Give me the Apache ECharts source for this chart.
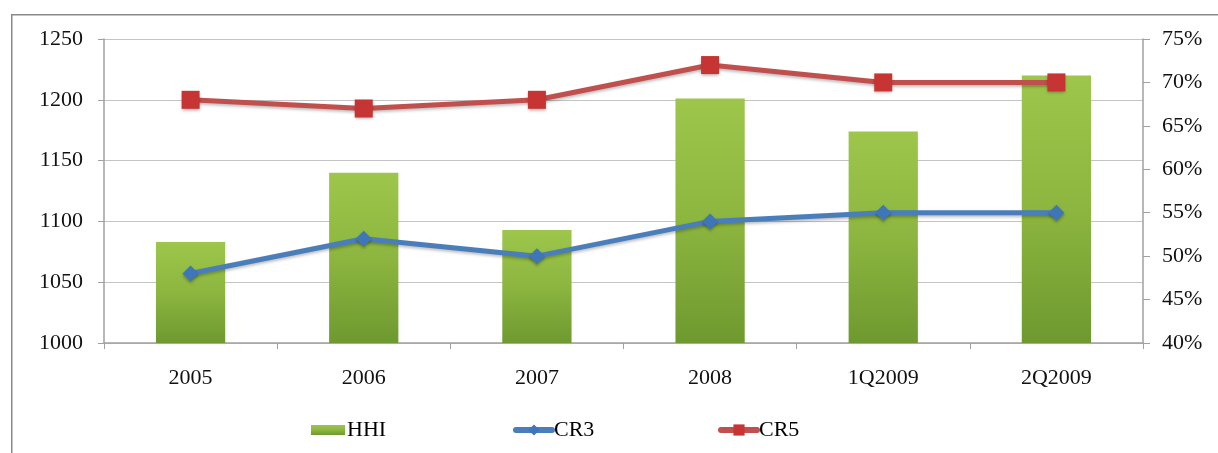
<!DOCTYPE html>
<html>
<head>
<meta charset="utf-8">
<script src="https://cdn.jsdelivr.net/npm/echarts@6/dist/echarts.min.js"></script>
<style>
html,body{margin:0;padding:0;background:#fff;}
#c{width:1218px;height:453px;}
</style>
</head>
<body>
<div id="c"></div>
<script>
const categories = ['2005', '2006', '2007', '2008', '1Q2009', '2Q2009'];
const hhiValues = [1083, 1140, 1093, 1201, 1174, 1220];
const cr3Values = [48, 52, 50, 54, 55, 55];
const cr5Values = [68, 67, 68, 72, 70, 70];
const leftTicks = {min: 1000, max: 1250, interval: 50};
const rightTicks = {min: 40, max: 75, interval: 5};

const font = '"Liberation Serif", "DejaVu Serif", serif';
const chart = echarts.init(document.getElementById('c'), null, {renderer: 'canvas'});
const legendCommon = {
  bottom: 7, itemWidth: 36, itemHeight: 14, itemGap: 4,
  textStyle: {fontFamily: font, fontSize: 22, color: '#000', padding: [0,0,0,-3]},
  lineStyle: {width: 6, cap: 'round'}
};
chart.setOption({
  animation: false,
  backgroundColor: '#fff',
  graphic: [{
    type: 'rect', left: 11, top: 14, z: -1,
    shape: {width: 1240, height: 460},
    style: {fill: '#fff', stroke: '#8a8a8a', lineWidth: 1.5}
  }],
  grid: {left: 104, right: 75, top: 39, bottom: 110},
  legend: [
    Object.assign({}, legendCommon, {left: 306, data: [{name: 'HHI', icon: 'rect'}], itemWidth: 34, itemHeight: 10}),
    Object.assign({}, legendCommon, {left: 508, data: ['CR3']}),
    Object.assign({}, legendCommon, {left: 713, data: ['CR5']})
  ],
  xAxis: {
    type: 'category', data: categories, boundaryGap: true,
    axisLine: {lineStyle: {color: '#a0a0a0', width: 1.5}},
    axisTick: {show: true, length: 6, alignWithLabel: false, lineStyle: {color: '#a0a0a0'}},
    axisLabel: {fontFamily: font, fontSize: 22, color: '#111', margin: 24}
  },
  yAxis: [{
    type: 'value', min: leftTicks.min, max: leftTicks.max, interval: leftTicks.interval,
    axisLine: {show: true, lineStyle: {color: '#a0a0a0', width: 1.5}},
    axisTick: {show: true, length: 6, lineStyle: {color: '#a0a0a0'}},
    splitLine: {show: true, lineStyle: {color: '#c4c4c4', width: 1.2}},
    axisLabel: {fontFamily: font, fontSize: 22, color: '#111', margin: 21, formatter: v => String(v)}
  }, {
    type: 'value', min: rightTicks.min, max: rightTicks.max, interval: rightTicks.interval,
    position: 'right',
    axisLine: {show: true, lineStyle: {color: '#a0a0a0', width: 1.5}},
    axisTick: {show: true, length: 7, lineStyle: {color: '#a0a0a0'}},
    splitLine: {show: false},
    axisLabel: {fontFamily: font, fontSize: 22, color: '#111', margin: 19, formatter: '{value}%'}
  }],
  series: [{
    name: 'HHI', type: 'bar', data: hhiValues, yAxisIndex: 0, barWidth: '40%',
    itemStyle: {
      color: new echarts.graphic.LinearGradient(0, 0, 0, 1, [
        {offset: 0, color: '#9dc64b'}, {offset: 0.5, color: '#8cb63f'}, {offset: 1, color: '#6e992f'}
      ])
    }
  }, {
    name: 'CR3', type: 'line', data: cr3Values, yAxisIndex: 1,
    symbol: 'diamond', symbolSize: 16,
    lineStyle: {color: '#4a7ebb', width: 5, shadowColor: 'rgba(0,0,0,0.25)', shadowBlur: 3, shadowOffsetY: 2},
    itemStyle: {color: '#3f76b8', shadowColor: 'rgba(0,0,0,0.3)', shadowBlur: 3, shadowOffsetY: 2}
  }, {
    name: 'CR5', type: 'line', data: cr5Values, yAxisIndex: 1,
    symbol: 'rect', symbolSize: 18,
    lineStyle: {color: '#c0504d', width: 5, shadowColor: 'rgba(0,0,0,0.25)', shadowBlur: 3, shadowOffsetY: 2},
    itemStyle: {color: '#c73434', shadowColor: 'rgba(0,0,0,0.3)', shadowBlur: 3, shadowOffsetY: 2}
  }]
});
</script>
</body>
</html>
